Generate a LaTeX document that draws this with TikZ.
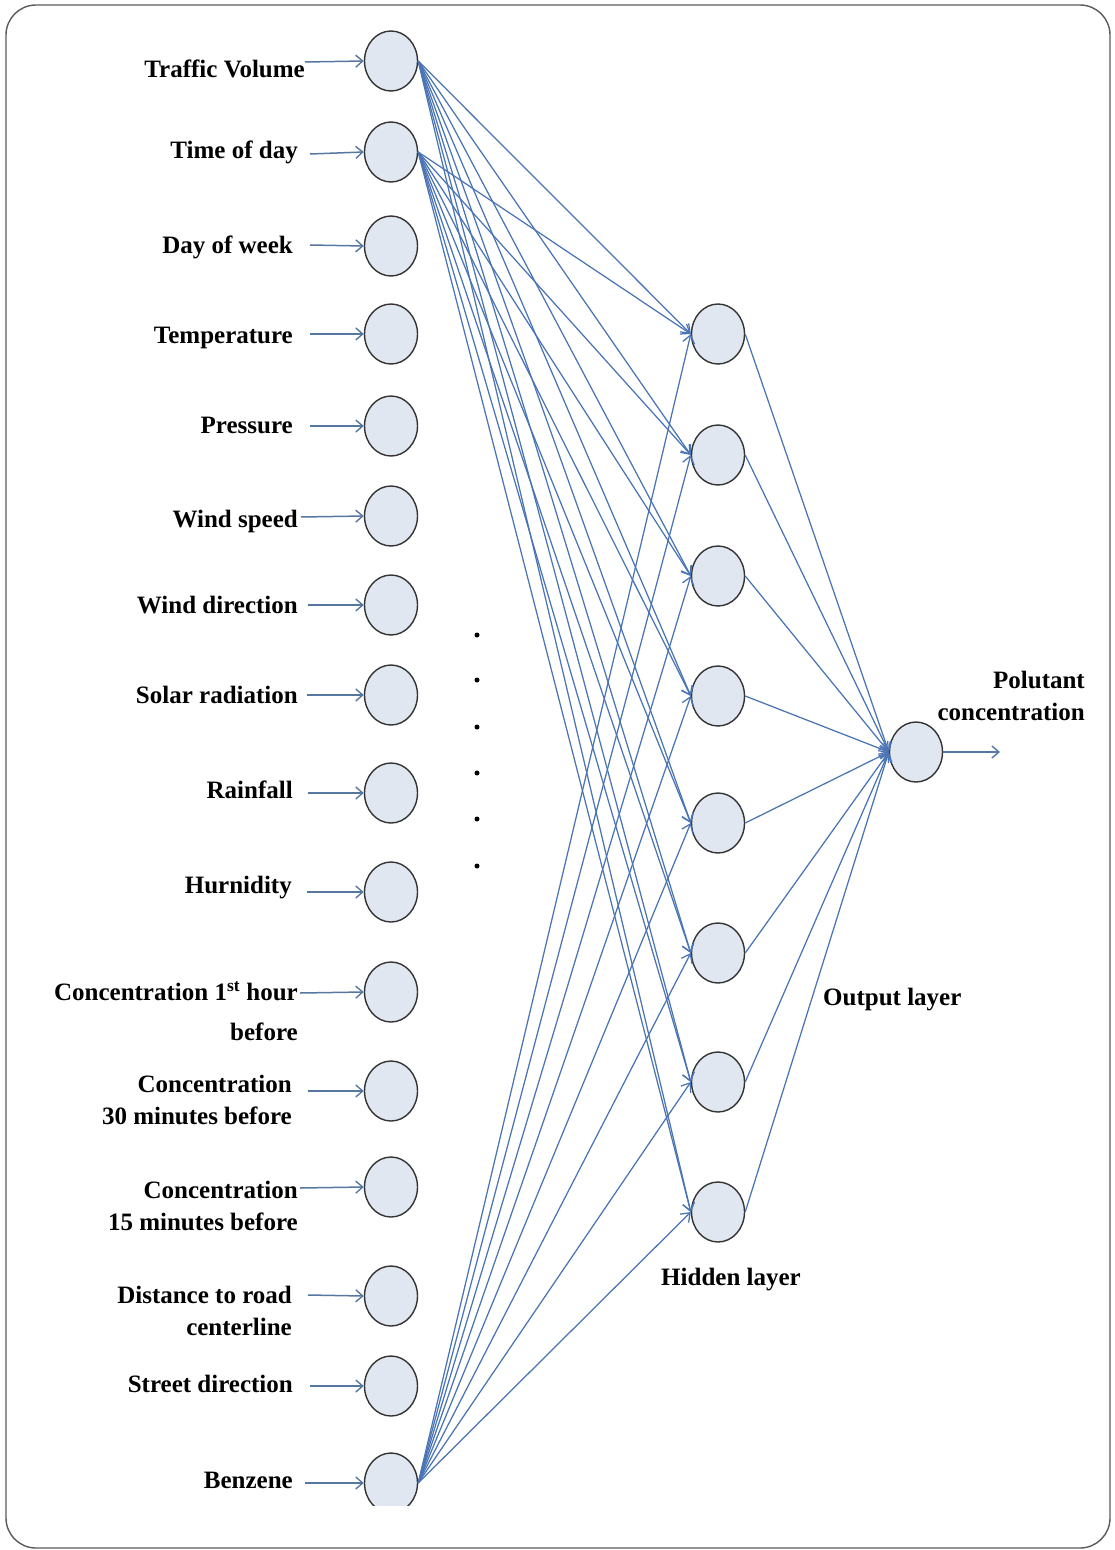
\documentclass[tikz,border=0pt]{standalone}
\usepackage{fontspec}
\setmainfont{Liberation Serif}
\usetikzlibrary{arrows.meta,shapes.geometric}
\definecolor{edgeblue}{HTML}{4A74B4}
\definecolor{inblue}{HTML}{56779F}
\definecolor{nodefill}{HTML}{E1E7F1}
\definecolor{framegray}{HTML}{5A5A5A}
\begin{document}
\begin{tikzpicture}[x=1pt,y=-1pt,
  neuron/.style={ellipse, draw=black!80, line width=1.4pt, fill=nodefill,
    minimum width=53pt, minimum height=60pt, inner sep=0pt},
  conn/.style={draw=edgeblue, line width=1.25pt,
    -{Straight Barb[length=8pt,width=12pt,line width=1.25pt]}},
  inconn/.style={draw=inblue, line width=1.5pt,
    -{Straight Barb[length=7pt,width=12pt,line width=1.4pt]}},
  lbl/.style={font=\fontsize{25}{31.5}\selectfont\bfseries, inner sep=0pt,
    anchor=base east, align=right},
  lblw/.style={font=\fontsize{25}{31.5}\selectfont\bfseries, inner sep=0pt,
    anchor=base west, align=left}]
\useasboundingbox (0,0) rectangle (1115,1550);
\draw[framegray, line width=1.4pt, rounded corners=30pt] (6,5) rectangle (1110,1548);
\begin{scope}
\clip (0,0) rectangle (1115,1505);
% input neurons
\foreach \n/\y in {1/61,2/152,3/246,4/334,5/426,6/516,7/605,8/695,9/793,10/892,
  11/992,12/1091,13/1187,14/1296,15/1386,16/1483}
  \node[neuron] (i\n) at (391,\y) {};
% hidden neurons
\foreach \n/\y in {1/334,2/455,3/576,4/696,5/823,6/953,7/1082,8/1212}
  \node[neuron] (h\n) at (718,\y) {};
% output neuron
\node[neuron] (out) at (916,752) {};
% input -> hidden
\foreach \s in {1,2,16}
  \foreach \t in {1,...,8}
    \draw[conn] (i\s.east) -- (h\t.west);
% hidden -> output
\foreach \t in {1,...,8}
  \draw[conn] (h\t.east) -- (out.west);
\coordinate (outend) at (1000,752);
\draw[inconn] (out.east) -- (outend);
% input arrows
\foreach \n/\x/\y in {1/305/62,2/310/154,3/310/245,4/310/334,5/310/426,6/301/517,
  7/308/605,8/307/695,9/308/793,10/307/892,11/300/993,12/308/1091,13/300/1188,
  14/308/1295,15/310/1386,16/305/1483}
{
  \coordinate (a\n) at (\x,\y);
  \draw[inconn] (a\n) -- (i\n.west);
}
% labels
\node[lbl] (l1) at (305,77) {Traffic Volume};
\node[lbl] (l2) at (298,158) {Time of day};
\node[lbl] (l3) at (293,253) {Day of week};
\node[lbl] (l4) at (293,343) {Temperature};
\node[lbl] (l5) at (293,433) {Pressure};
\node[lbl] (l6) at (298,527) {Wind speed};
\node[lbl] (l7) at (298,613) {Wind direction};
\node[lbl] (l8) at (298,703) {Solar radiation};
\node[lbl] (l9) at (293,798) {Rainfall};
\node[lbl] (l10) at (292,893) {Hurnidity};
\node[lbl] (l11) at (298,1040) {Concentration 1\textsuperscript{st} hour\\[8pt]before};
\node[lbl] (l12) at (292,1124) {Concentration\\30 minutes before};
\node[lbl] (l13) at (298,1230) {Concentration\\15 minutes before};
\node[lbl] (l14) at (292,1335) {Distance to road\\centerline};
\node[lbl] (l15) at (293,1392) {Street direction};
\node[lbl] (l16) at (293,1488) {Benzene};
% dots
\foreach \y in {635,680,727,773,819,866}
  \fill (477,\y) circle (2.5pt);
% layer labels
\node[lbl] (pc) at (1085,720) {Polutant\\concentration};
\node[lblw] (ol) at (823,1005) {Output layer};
\node[lblw] (hl) at (661,1285) {Hidden layer};
\end{scope}
\end{tikzpicture}
\end{document}
